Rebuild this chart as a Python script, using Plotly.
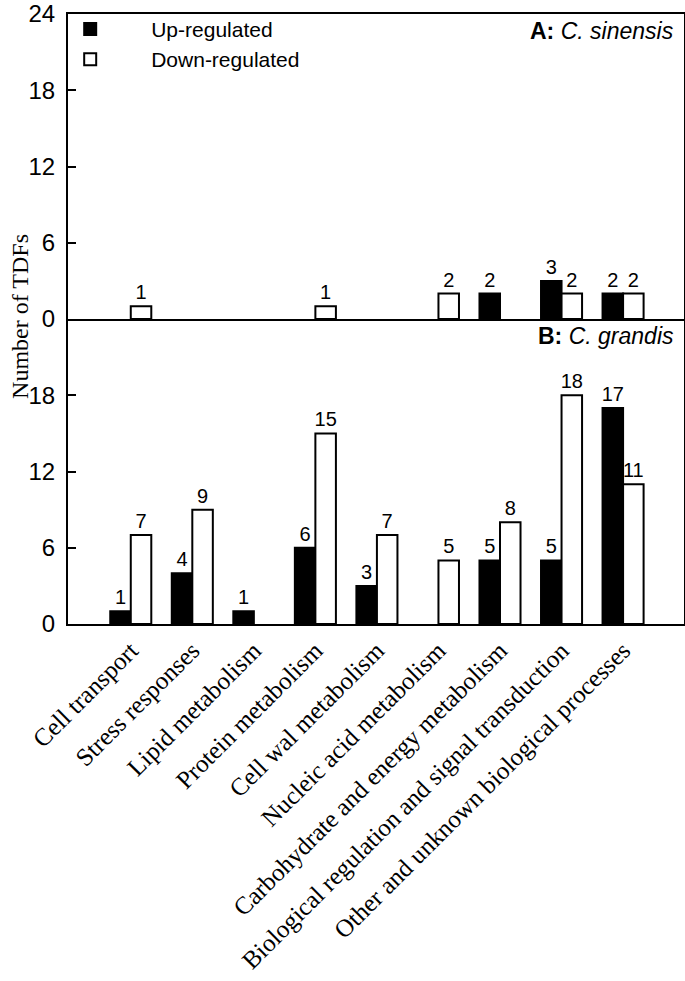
import plotly.graph_objects as go
from plotly.subplots import make_subplots

categories = ["Cell transport", "Stress responses", "Lipid metabolism",
              "Protein metabolism", "Cell wal metabolism", "Nucleic acid metabolism",
              "Carbohydrate and energy metabolism",
              "Biological regulation and signal transduction",
              "Other and unknown biological processes"]

a_up = [0, 0, 0, 0, 0, 0, 2, 3, 2]
a_down = [1, 0, 0, 1, 0, 2, 0, 2, 2]
b_up = [1, 4, 1, 6, 3, 0, 5, 5, 17]
b_down = [7, 9, 0, 15, 7, 5, 8, 18, 11]

y_ticks_a = [0, 6, 12, 18, 24]
y_ticks_b = [0, 6, 12, 18]

SANS = "Liberation Sans"
SERIF = "Liberation Serif"


def clean(v):
    return [x if x > 0 else None for x in v]


def labels(v):
    return [str(x) if x > 0 else "" for x in v]


fig = make_subplots(rows=2, cols=1, shared_xaxes=True, vertical_spacing=0)

series = [
    ("Up-regulated", "black", a_up, b_up),
    ("Down-regulated", "white", a_down, b_down),
]
for name, color, av, bv in series:
    for row, vals, show in [(1, av, True), (2, bv, False)]:
        fig.add_trace(go.Bar(
            x=categories, y=clean(vals), name=name, legendgroup=name,
            showlegend=show,
            marker=dict(color=color, line=dict(color="black", width=2)),
            text=labels(vals), textposition="outside",
            textfont=dict(family=SANS, size=20, color="black"),
            constraintext="none", cliponaxis=False,
        ), row=row, col=1)

fig.update_layout(
    width=685, height=981,
    margin=dict(l=68, r=1, t=14, b=357, autoexpand=False),
    plot_bgcolor="white", paper_bgcolor="white",
    barmode="group", bargap=0.333, bargroupgap=0,
    font=dict(family=SANS, size=20, color="black"),
    legend=dict(x=-0.063, y=1.0085, xanchor="left", yanchor="top",
                font=dict(family=SANS, size=21, color="black"),
                bgcolor="rgba(0,0,0,0)", itemwidth=112,
                tracegroupgap=0),
)

fig.update_xaxes(showline=True, linewidth=2, linecolor="black", mirror=True,
                 showgrid=False, zeroline=False, range=[-1.02, 8.99], ticks="",
                 row=1, col=1)
fig.update_xaxes(showline=True, linewidth=2, linecolor="black", mirror=False,
                 showgrid=False, zeroline=False, range=[-1.02, 8.99], ticks="",
                 tickangle=-45, tickfont=dict(family=SERIF, size=25, color="black"),
                 row=2, col=1)
for row, tv in [(1, y_ticks_a), (2, y_ticks_b)]:
    fig.update_yaxes(showline=True, linewidth=2, linecolor="black", mirror=True,
                     showgrid=False, zeroline=False, range=[0, 24], tickvals=tv,
                     ticks="inside", ticklen=8, tickwidth=2, tickcolor="black",
                     tickfont=dict(family=SANS, size=24, color="black"),
                     ticklabelstandoff=6, ticklabeloverflow="allow",
                     row=row, col=1)

fig.add_annotation(text="<b>A:</b> <i>C. sinensis</i>", xref="x domain", yref="y domain",
                   x=0.987, y=0.995, xanchor="right", yanchor="top", showarrow=False,
                   font=dict(family=SANS, size=23, color="black"))
fig.add_annotation(text="<b>B:</b> <i>C. grandis</i>", xref="x2 domain", yref="y2 domain",
                   x=0.987, y=0.995, xanchor="right", yanchor="top", showarrow=False,
                   font=dict(family=SANS, size=23, color="black"))
fig.add_annotation(text="Number of TDFs", xref="paper", yref="paper",
                   x=-0.078, y=0.505, xanchor="center", yanchor="middle",
                   textangle=-90, showarrow=False,
                   font=dict(family=SERIF, size=24, color="black"))

fig.write_html("out.html", config={"displayModeBar": False},
               post_script="document.body.style.margin='0';")
